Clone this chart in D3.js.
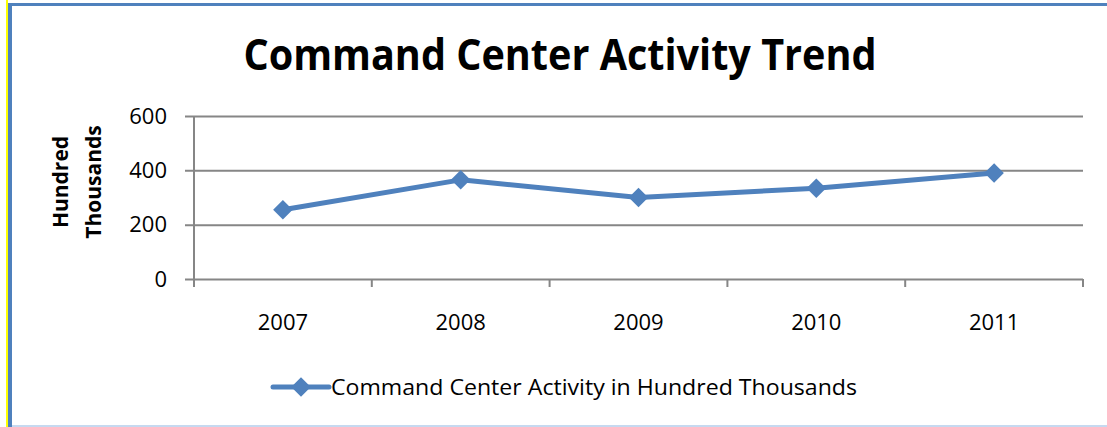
<!DOCTYPE html>
<html>
<head>
<meta charset="utf-8">
<script src="https://cdn.jsdelivr.net/npm/d3@7"></script>
<style>
  html, body { margin: 0; padding: 0; background: #fff; }
  svg { display: block; font-family: "Open Sans", "Noto Sans", sans-serif; }
</style>
</head>
<body>
<svg id="chart" width="1107" height="427"></svg>
<script>
// chart data
const years = ["2007", "2008", "2009", "2010", "2011"];
const activity = [255, 365, 300, 334, 390];
const yTicks = [0, 200, 400, 600];
const title = "Command Center Activity Trend";
const yLabelLines = ["Hundred", "Thousands"];
const seriesName = "Command Center Activity in Hundred Thousands";

const W = 1107, H = 427;
const plot = { left: 194, right: 1083, top: 116, bottom: 279 };
const BLUE = "#4F81BD";
const GRID = "#868686";

const svg = d3.select("#chart");

// page frame
svg.append("rect").attr("x", 0).attr("y", 0).attr("width", W).attr("height", H).attr("fill", "#fff");
svg.append("rect").attr("x", 6).attr("y", 0).attr("width", 2).attr("height", H).attr("fill", "#FFFF00");
svg.append("rect").attr("x", 8).attr("y", 3).attr("width", W - 8).attr("height", 3).attr("fill", BLUE);
svg.append("rect").attr("x", 8).attr("y", 3).attr("width", 4).attr("height", H - 3).attr("fill", BLUE);
svg.append("rect").attr("x", 12).attr("y", 425).attr("width", W - 12).attr("height", 2).attr("fill", "#C6D9F0");

// scales
const x = d3.scaleBand().domain(years).range([plot.left, plot.right]);
const y = d3.scaleLinear().domain([0, 600]).range([plot.bottom, plot.top]);

// title
svg.append("text")
  .attr("x", 560).attr("y", 70)
  .attr("text-anchor", "middle")
  .attr("font-weight", "bold")
  .attr("font-size", 43)
  .attr("fill", "#000")
  .attr("textLength", 633).attr("lengthAdjust", "spacingAndGlyphs")
  .text(title);

// y gridlines + tick labels
const yAxis = d3.axisLeft(y).tickValues(yTicks).tickSize(-(plot.right - plot.left)).tickSizeOuter(0).tickPadding(27);
const gy = svg.append("g").attr("transform", `translate(${plot.left},0)`).call(yAxis);
gy.select(".domain").remove();
gy.selectAll(".tick line").attr("x1", -9).attr("stroke", GRID).attr("stroke-width", 2);
gy.selectAll(".tick text").attr("font-size", 22).attr("fill", "#000").attr("font-family", "Open Sans, sans-serif");

// y axis line
svg.append("line")
  .attr("x1", plot.left).attr("x2", plot.left)
  .attr("y1", plot.top).attr("y2", plot.bottom)
  .attr("stroke", GRID).attr("stroke-width", 2);

// x axis ticks at band boundaries
const bounds = years.map(d => x(d)).concat([x(years[years.length - 1]) + x.bandwidth()]);
svg.append("g").selectAll("line").data(bounds).join("line")
  .attr("x1", d => d).attr("x2", d => d)
  .attr("y1", plot.bottom).attr("y2", plot.bottom + 8)
  .attr("stroke", GRID).attr("stroke-width", 2);

// x labels
svg.append("g").selectAll("text").data(years).join("text")
  .attr("x", d => x(d) + x.bandwidth() / 2)
  .attr("y", 330)
  .attr("text-anchor", "middle")
  .attr("font-size", 22)
  .attr("fill", "#000")
  .text(d => d);

// y axis title
const yl = svg.append("text")
  .attr("transform", "translate(68,182) rotate(-90)")
  .attr("text-anchor", "middle")
  .attr("font-weight", "bold")
  .attr("font-size", 21)
  .attr("fill", "#000");
yl.selectAll("tspan").data(yLabelLines).join("tspan")
  .attr("x", 0)
  .attr("dy", (d, i) => i === 0 ? 0 : 33)
  .text(d => d);

// line
const pts = years.map((d, i) => [x(d) + x.bandwidth() / 2, y(activity[i])]);
svg.append("path")
  .attr("d", d3.line()(pts))
  .attr("fill", "none")
  .attr("stroke", BLUE)
  .attr("stroke-width", 5)
  .attr("stroke-linejoin", "round")
  .attr("stroke-linecap", "round");

const diamond = d3.symbol().type(d3.symbolSquare).size(190);
svg.append("g").selectAll("path").data(pts).join("path")
  .attr("transform", d => `translate(${d[0]},${d[1]}) rotate(45)`)
  .attr("d", diamond)
  .attr("fill", BLUE);

// legend
svg.append("line")
  .attr("x1", 273).attr("x2", 329).attr("y1", 387).attr("y2", 387)
  .attr("stroke", BLUE).attr("stroke-width", 5).attr("stroke-linecap", "round");
svg.append("path")
  .attr("transform", "translate(301,387) rotate(45)")
  .attr("d", diamond)
  .attr("fill", BLUE);
svg.append("text")
  .attr("x", 331).attr("y", 395)
  .attr("font-size", 21)
  .attr("fill", "#000")
  .attr("textLength", 526).attr("lengthAdjust", "spacingAndGlyphs")
  .text(seriesName);
</script>
</body>
</html>
